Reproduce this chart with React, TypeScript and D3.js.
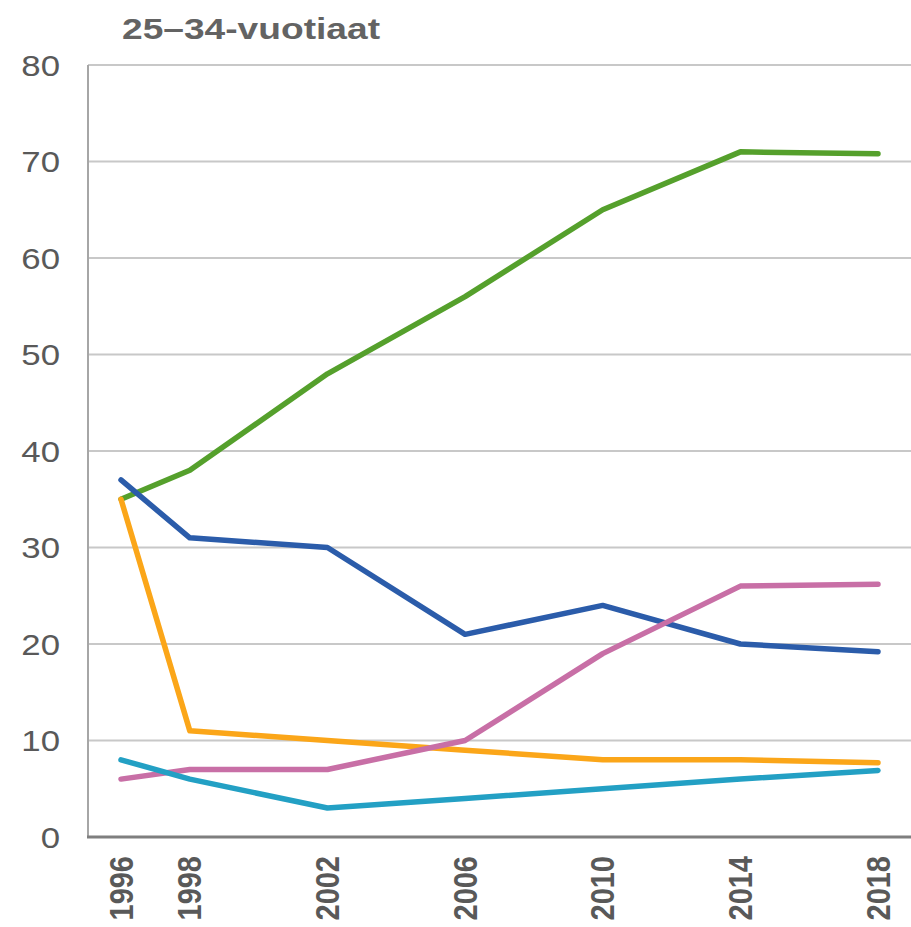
import React from "react";
import * as d3 from "d3";

const years = [1996, 1998, 2002, 2006, 2010, 2014, 2018];
const greenSeries = [35, 38, 48, 56, 65, 71, 70.8];
const blueSeries = [37, 31, 30, 21, 24, 20, 19.2];
const orangeSeries = [35, 11, 10, 9, 8, 8, 7.7];
const pinkSeries = [6, 7, 7, 10, 19, 26, 26.2];
const tealSeries = [8, 6, 3, 4, 5, 6, 6.9];
const yTicks = [0, 10, 20, 30, 40, 50, 60, 70, 80];
const title = "25–34-vuotiaat";

const series = [
  { name: "green", values: greenSeries, color: "#55A02C" },
  { name: "blue", values: blueSeries, color: "#2B5CAA" },
  { name: "orange", values: orangeSeries, color: "#FBA619" },
  { name: "pink", values: pinkSeries, color: "#C86FA6" },
  { name: "teal", values: tealSeries, color: "#23A0C4" },
];

export default function App() {
  const W = 911;
  const H = 927;
  const left = 88;
  const right = 911;
  const x = d3.scaleLinear().domain([1996, 2018]).range([121, 878]);
  const y = d3.scaleLinear().domain([0, 80]).range([837, 65]);
  const line = d3
    .line<number>()
    .x((_, i) => x(years[i]))
    .y((v) => y(v));

  return (
    <svg
      width={W}
      height={H}
      style={{ position: "absolute", left: 0, top: 0, background: "#fff" }}
      fontFamily="'Liberation Sans', Arial, sans-serif"
    >
      <text
        x={122}
        y={39}
        fontSize={30}
        fontWeight="bold"
        fill="#636363"
        textLength={258}
        lengthAdjust="spacingAndGlyphs"
      >
        {title}
      </text>
      {yTicks.map((t) =>
        t > 0 ? (
          <line
            key={"g" + t}
            x1={left}
            x2={right}
            y1={y(t)}
            y2={y(t)}
            stroke="#c8c8c8"
            strokeWidth={2}
          />
        ) : null
      )}
      <line x1={left} x2={left} y1={y(80)} y2={y(0)} stroke="#a6a6a6" strokeWidth={2} />
      <line x1={left - 1} x2={right} y1={y(0)} y2={y(0)} stroke="#7f7f7f" strokeWidth={3} />
      {yTicks.map((t) => (
        <text
          key={"yl" + t}
          transform={`translate(60,${y(t) + 10.5}) scale(1.2,1)`}
          textAnchor="end"
          fontSize={29}
          fill="#595959"
        >
          {t}
        </text>
      ))}
      {years.map((yr) => (
        <text
          key={"xl" + yr}
          transform={`translate(${x(yr) + 11.5},856) rotate(-90) scale(1,1.12)`}
          textAnchor="end"
          fontSize={29}
          fontWeight="bold"
          fill="#595959"
        >
          {yr}
        </text>
      ))}
      {series.map((s) => (
        <path
          key={s.name}
          d={line(s.values) || ""}
          fill="none"
          stroke={s.color}
          strokeWidth={5.5}
          strokeLinecap="round"
          strokeLinejoin="round"
        />
      ))}
    </svg>
  );
}
